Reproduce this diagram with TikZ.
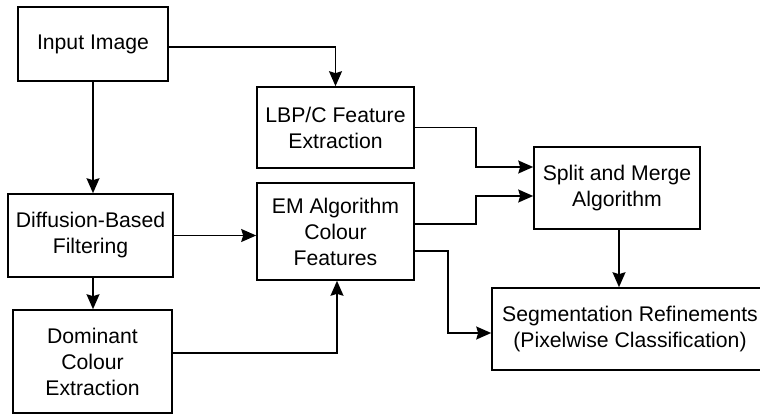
\documentclass[tikz,border=0pt]{standalone}
\usepackage{fontspec}
\setmainfont{Liberation Sans}
\usetikzlibrary{arrows.meta}

\begin{document}
\begin{tikzpicture}[x=1pt,y=-1pt,
    stage/.style={rectangle, draw, line width=1.6pt, align=center, inner sep=2pt,
                  font=\fontsize{21.2}{26}\selectfont},
    flow/.style={line width=1.6pt, -{Stealth[length=15pt,width=13pt,inset=2pt]}}]
                    \useasboundingbox (0,0) rectangle (760,414);

                    \node[stage, minimum width=150pt, minimum height=74pt] (input) at (93,44) {Input Image};
                    \node[stage, minimum width=157pt, minimum height=81pt] (lbp) at (335.5,127.5) {LBP/C Feature\\Extraction};
                    \node[stage, minimum width=165pt, minimum height=83pt] (diff) at (90.5,235.5) {Diffusion-Based\\Filtering};
                    \node[stage, minimum width=157pt, minimum height=97pt] (em) at (335.5,231.5) {EM Algorithm\\Colour\\Features};
                    \node[stage, minimum width=159pt, minimum height=103pt] (dom) at (92.5,361.5) {Dominant\\Colour\\Extraction};
                    \node[stage, minimum width=166pt, minimum height=82pt] (split) at (617,188) {Split and Merge\\Algorithm};
                    \node[stage, minimum width=276pt, minimum height=82pt] (seg) at (630,329) {Segmentation Refinements\\(Pixelwise Classification)};

                    \draw[flow] ([yshift=-3pt]input.east) -| (lbp.north);
                    \draw[flow] (input.south) -- (input.south |- diff.north);
                    \draw[flow] (diff.east) -- (diff.east -| em.west);
                    \draw[flow] (input.south |- diff.south) -- (input.south |- dom.north);
                    \draw[flow] ([yshift=8.5pt]dom.east) -| ([xshift=1.5pt]em.south);
                    \draw[flow] (lbp.east) -- ++(61,0) |- ([yshift=21pt]split.west);
                    \draw[flow] ([yshift=7.5pt]em.east) -- ++(61,0) |- ([yshift=-8pt]split.west);
                    \draw[flow] ([yshift=-19.5pt]em.east) -- ++(33,0) |- ([yshift=-4pt]seg.west);
                    \draw[flow] ([xshift=2pt]split.south) -- ([xshift=2pt]split.south |- seg.north);
                \end{tikzpicture}
\end{document}
